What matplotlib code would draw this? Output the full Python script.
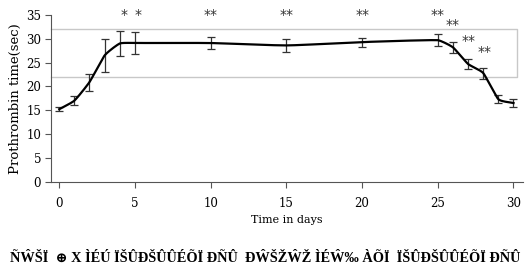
import matplotlib
matplotlib.use("Agg")
import matplotlib.pyplot as plt
import numpy as np

# datos
dias = [0, 1, 2, 3, 4, 5, 10, 15, 20, 25, 26, 27, 28, 29, 30]
tiempo = [15.2, 17.0, 20.9, 26.5, 29.0, 29.1, 29.1, 28.6, 29.3, 29.7, 28.2, 24.7, 22.8, 17.3, 16.5]
error = [0.4, 1.0, 1.8, 3.5, 2.6, 2.4, 1.2, 1.3, 0.95, 1.3, 1.1, 1.1, 1.15, 0.8, 0.9]

# marcas de significancia: (dia, valor, texto)
marcas_x = [4.25, 5.2, 10.0, 15.0, 20.0, 25.0, 26.0, 27.0, 28.1]
marcas_y = [35.0, 35.0, 35.0, 35.0, 35.0, 35.0, 32.9, 29.5, 27.3]
marcas_txt = ['*', '*', '**', '**', '**', '**', '**', '**', '**']

# rango normal (recuadro gris)
rango_bajo, rango_alto = 21.9, 32.1

pie_texto = "ÑŴŠÏ  ⊕ X ÌÉÚ ÏŠÛÐŠÛÛÉÕÏ ÐÑÛ  ÐŴŠŽŴŽ ÌÉŴ‰ ÀÕÏ  ÏŠÛÐŠÛÛÉÕÏ ÐÑÛ"


def suavizar(x, y, n=20):
    """Curva tipo Catmull-Rom que pasa por todos los puntos."""
    x = np.asarray(x, float)
    y = np.asarray(y, float)
    px = np.concatenate([[2 * x[0] - x[1]], x, [2 * x[-1] - x[-2]]])
    py = np.concatenate([[2 * y[0] - y[1]], y, [2 * y[-1] - y[-2]]])
    xs, ys = [], []
    t = np.linspace(0, 1, n)
    for i in range(1, len(px) - 2):
        dx = px[i + 1] - px[i]
        m0x = (px[i + 1] - px[i - 1]) / 2
        m1x = (px[i + 2] - px[i]) / 2
        m0y = (py[i + 1] - py[i - 1]) / 2
        m1y = (py[i + 2] - py[i]) / 2
        # limitar tangentes para no desbordar tramos cortos/largos
        s0 = min(1.0, dx / max(m0x, 1e-9))
        s1 = min(1.0, dx / max(m1x, 1e-9))
        m0x, m0y = m0x * s0 * 0.5, m0y * s0 * 0.5
        m1x, m1y = m1x * s1 * 0.5, m1y * s1 * 0.5
        h00 = 2 * t**3 - 3 * t**2 + 1
        h10 = t**3 - 2 * t**2 + t
        h01 = -2 * t**3 + 3 * t**2
        h11 = t**3 - t**2
        xs.extend(h00 * px[i] + h10 * m0x + h01 * px[i + 1] + h11 * m1x)
        ys.extend(h00 * py[i] + h10 * m0y + h01 * py[i + 1] + h11 * m1y)
    return xs, ys


plt.rcParams['font.family'] = ['DejaVu Serif']

fig = plt.figure(figsize=(5.3, 2.67), dpi=100)
ax = fig.add_axes([0.096, 0.32, 0.89, 0.624])

# recuadro del rango normal
ax.plot([-0.55, 30.25, 30.25, -0.55], [rango_alto, rango_alto, rango_bajo, rango_bajo],
        color='#c8c8c8', lw=1.0, zorder=1, clip_on=False)

sx, sy = suavizar(dias, tiempo)
ax.plot(sx, sy, color='black', lw=1.6, zorder=3)
ax.errorbar(dias, tiempo, yerr=error, fmt='none', ecolor='#333333',
            elinewidth=0.9, capsize=3, capthick=0.9, zorder=2)

for x, y, s in zip(marcas_x, marcas_y, marcas_txt):
    ax.text(x, y, s, ha='center', va='center', fontsize=10, color='#333333',
            family='DejaVu Sans')

ax.set_xlim(-0.55, 30.6)
ax.set_ylim(0, 35)
ax.set_xticks(range(0, 31, 5))
ax.set_yticks(range(0, 36, 5))
ax.tick_params(axis='both', labelsize=8.5, color='#555555', length=4, width=0.8)
ax.tick_params(axis='x', pad=7)
ax.tick_params(axis='y', pad=3)
ax.set_xlabel('Time in days', fontsize=8, labelpad=4)
ax.set_ylabel('Prothrombin time(sec)', fontsize=9.5, labelpad=3)

for lado in ['top', 'right']:
    ax.spines[lado].set_visible(False)
for lado in ['left', 'bottom']:
    ax.spines[lado].set_color('#555555')
    ax.spines[lado].set_linewidth(0.8)

fig.text(0.5, 0.008, pie_texto, fontsize=10.4, fontweight='bold', ha='center', va='bottom',
         family=['Liberation Serif', 'DejaVu Serif', 'DejaVu Sans'])

fig.savefig('out.png', dpi=100)
